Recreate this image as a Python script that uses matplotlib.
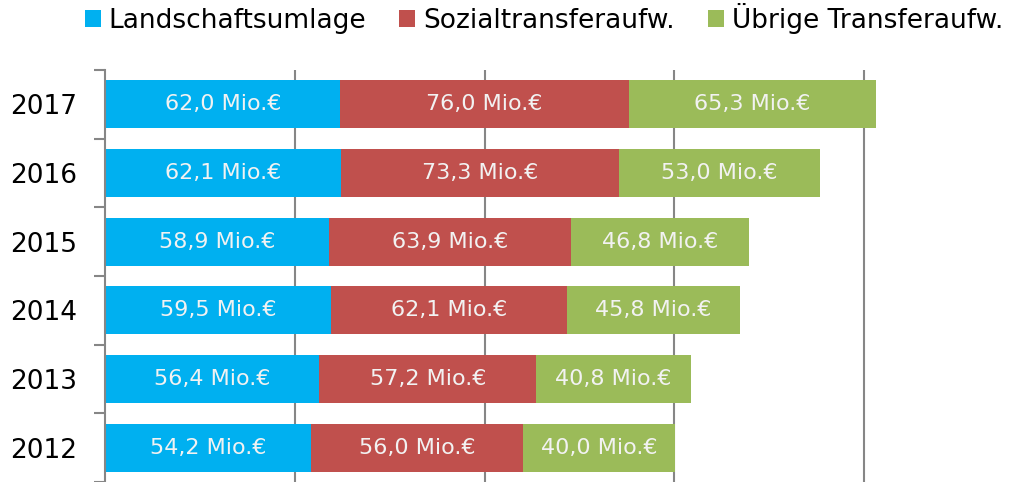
import numpy as np
import matplotlib.pyplot as plt
from matplotlib.patches import Patch

# Data
years = ['2012', '2013', '2014', '2015', '2016', '2017']
landschaft = [54.2, 56.4, 59.5, 58.9, 62.1, 62.0]
sozial = [56.0, 57.2, 62.1, 63.9, 73.3, 76.0]
uebrige = [40.0, 40.8, 45.8, 46.8, 53.0, 65.3]

series = ['Landschaftsumlage', 'Sozialtransferaufw.', 'Übrige Transferaufw.']
colors = ['#00B0F0', '#C0504D', '#9BBB59']
grey = '#868686'

fig = plt.figure(figsize=(10.13, 4.82), dpi=100)
ax = fig.add_axes([105.3 / 1013, 0.0, (1013 - 105.3) / 1013, 412 / 482])

y = np.arange(len(years))
left = np.zeros(len(years))
for vals, col in zip([landschaft, sozial, uebrige], colors):
    bars = ax.barh(y, vals, left=left, height=0.7, color=col, zorder=2)
    labels = [f'{v:.1f}'.replace('.', ',') + ' Mio.€' for v in vals]
    ax.bar_label(bars, labels=labels, label_type='center',
                 color='#F2F2F2', fontsize=16)
    left += np.array(vals)

ax.set_xlim(0, (1013 - 105.3) / 3.793)
ax.set_ylim(-0.5, len(years) - 0.5)

ax.set_xticks([50, 100, 150, 200])
ax.tick_params(axis='x', length=0, labelbottom=False)
ax.xaxis.grid(True, color=grey, linewidth=1.5)
ax.set_axisbelow(True)

ax.set_yticks(y)
ax.set_yticklabels(years, fontsize=19)
ax.set_yticks(np.arange(-0.5, len(years)), minor=True)
ax.tick_params(axis='y', which='major', length=0, pad=20)
ax.tick_params(axis='y', which='minor', length=8, width=1.5, color=grey)

for s in ['top', 'right', 'bottom']:
    ax.spines[s].set_visible(False)
ax.spines['left'].set_color(grey)
ax.spines['left'].set_linewidth(1.5)

handles = [Patch(facecolor=c, edgecolor='none') for c in colors]
fig.legend(handles, series, loc='center', bbox_to_anchor=(0.537, 0.962),
           ncol=3, frameon=False, fontsize=19, handlelength=0.6,
           handleheight=0.6, handletextpad=0.3, columnspacing=1.25,
           borderaxespad=0)

fig.savefig('out.png', dpi=100)
